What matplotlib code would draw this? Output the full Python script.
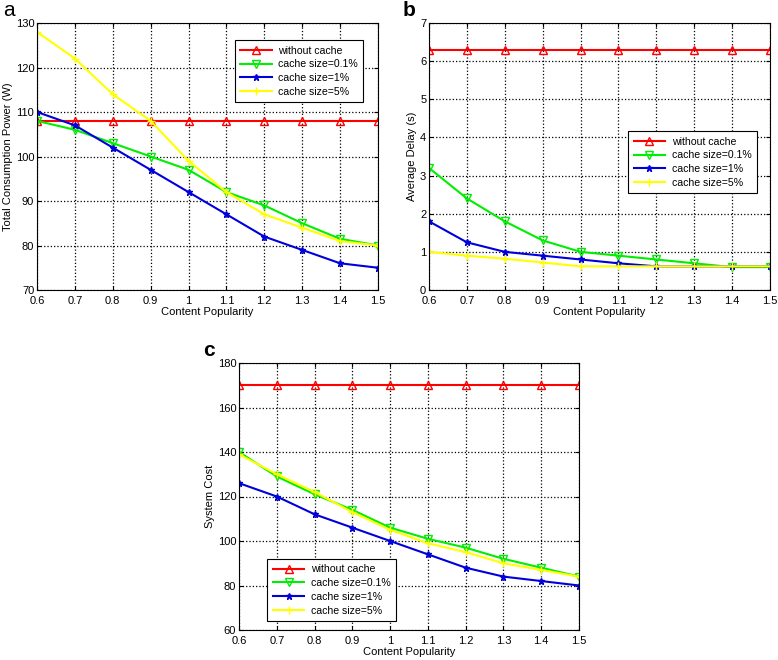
import numpy as np
import matplotlib
matplotlib.use("Agg")
import matplotlib.pyplot as plt

plt.rcParams['font.family'] = ['Liberation Sans', 'DejaVu Sans']
plt.rcParams['font.size'] = 8

# content popularity (x axis)
popularity = [0.6, 0.7, 0.8, 0.9, 1.0, 1.1, 1.2, 1.3, 1.4, 1.5]
labels = ['without cache', 'cache size=0.1%', 'cache size=1%', 'cache size=5%']

# (a) total consumption power (W)
power_nocache = [108] * 10
power_01 = [108, 106, 103, 100, 97, 92, 89, 85, 81.5, 80]
power_1 = [110, 107, 102, 97, 92, 87, 82, 79, 76, 75]
power_5 = [128, 122, 114, 108, 99, 92, 87, 84, 81, 80]

# (b) average delay (s)
delay_nocache = [6.3] * 10
delay_01 = [3.2, 2.4, 1.8, 1.3, 1.0, 0.9, 0.8, 0.7, 0.6, 0.6]
delay_1 = [1.8, 1.25, 1.0, 0.9, 0.8, 0.7, 0.62, 0.62, 0.62, 0.62]
delay_5 = [1.0, 0.9, 0.82, 0.72, 0.62, 0.62, 0.62, 0.62, 0.62, 0.62]

# (c) system cost
cost_nocache = [170] * 10
cost_01 = [140, 129, 121, 114, 106, 101, 97, 92, 88, 84]
cost_1 = [126, 120, 112, 106, 100, 94, 88, 84, 82, 80]
cost_5 = [139, 130, 122, 113, 105, 99, 95, 90, 87, 84]

styles = [
    dict(color='#ff0000', marker='^', mfc='none', ms=6),
    dict(color='#00ee00', marker='v', mfc='none', ms=6),
    dict(color='#0000dd', marker='*', ms=5),
    dict(color='#ffff00', marker='+', ms=6),
]

W, H = 778, 660
fig = plt.figure(figsize=(W / 100, H / 100), dpi=100)


def make_ax(l, t, r, b):
    return fig.add_axes([l / W, 1 - b / H, (r - l) / W, (b - t) / H])


def draw(ax, series, ylim, yticks, ylabel, leg_anchor):
    for ys, st, lab in zip(series, styles, labels):
        ax.plot(popularity, ys, lw=1.5, label=lab, **st)
    ax.set_xlim(0.6, 1.5)
    ax.set_xticks(popularity)
    ax.set_xticklabels(['0.6', '0.7', '0.8', '0.9', '1', '1.1', '1.2', '1.3', '1.4', '1.5'])
    ax.set_ylim(*ylim)
    ax.set_yticks(yticks)
    ax.grid(True, color='black', linestyle=':', linewidth=0.9)
    ax.tick_params(direction='in', length=3, top=True, right=True, labelsize=8, pad=2)
    ax.tick_params(axis='x', pad=4)
    ax.set_xlabel('Content Popularity', fontsize=8, labelpad=1)
    ax.set_ylabel(ylabel, fontsize=8, labelpad=2)
    for s in ax.spines.values():
        s.set_linewidth(0.8)
    leg = ax.legend(loc='upper left', bbox_to_anchor=leg_anchor, fancybox=False,
                    edgecolor='black', framealpha=1, fontsize=7.6, handlelength=3.0,
                    borderpad=0.5, labelspacing=0.35, handletextpad=0.6)
    leg.get_frame().set_linewidth(0.8)


ax_a = make_ax(37, 23, 378, 290)
draw(ax_a, [power_nocache, power_01, power_1, power_5], (70, 130),
     range(70, 131, 10), 'Total Consumption Power (W)', (0.565, 0.955))

ax_b = make_ax(429, 23, 770, 290)
draw(ax_b, [delay_nocache, delay_01, delay_1, delay_5], (0, 7),
     range(0, 8), 'Average Delay (s)', (0.569, 0.614))

ax_c = make_ax(239, 363, 579, 630)
draw(ax_c, [cost_nocache, cost_01, cost_1, cost_5], (60, 180),
     range(60, 181, 20), 'System Cost', (0.068, 0.285))

fig.text(3 / W, 1 - 11 / H, 'a', fontsize=15, va='center', ha='left')
fig.text(403 / W, 1 - 11 / H, 'b', fontsize=15, va='center', ha='left', weight='bold')
fig.text(203 / W, 1 - 350 / H, 'c', fontsize=15, va='center', ha='left', weight='bold')

fig.savefig('out.png', dpi=100)
